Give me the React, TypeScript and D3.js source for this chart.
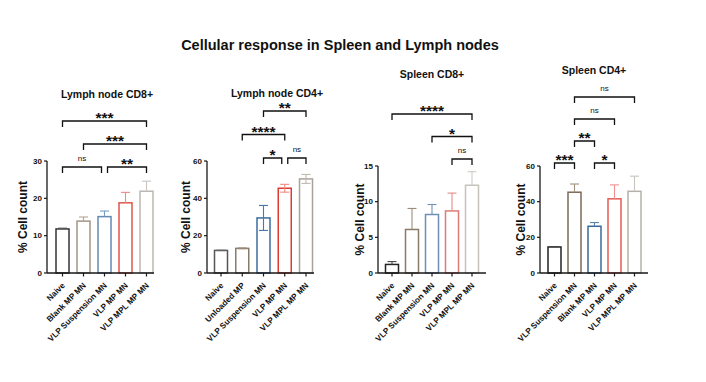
import React from "react";
import * as d3 from "d3";

const mainTitle = "Cellular response in Spleen and Lymph nodes";
const yAxisLabel = "% Cell count";

// Panel 1: Lymph node CD8+
const p1Title = "Lymph node CD8+";
const p1Categories = ["Naive", "Blank MP MN", "VLP Suspension MN", "VLP MP MN", "VLP MPL MP MN"];
const p1Means = [11.8, 13.9, 15.1, 18.8, 21.9];
const p1Errors = [0.2, 1.1, 1.5, 2.8, 2.7];
const p1Ticks = [0, 10, 20, 30];
const p1Max = 30;
const p1Brackets = [
  { from: 0, to: 2, label: "ns", level: 0 },
  { from: 2, to: 4, label: "**", level: 0 },
  { from: 1, to: 4, label: "***", level: 1 },
  { from: 0, to: 4, label: "***", level: 2 },
];

// Panel 2: Lymph node CD4+
const p2Title = "Lymph node CD4+";
const p2Categories = ["Naive", "Unloaded MP", "VLP Suspension MN", "VLP MP MN", "VLP MPL MP MN"];
const p2Means = [12.1, 13.2, 29.5, 45.4, 50.4];
const p2Errors = [0.1, 0.2, 6.7, 2.1, 2.4];
const p2Ticks = [0, 20, 40, 60];
const p2Max = 60;
const p2Brackets = [
  { from: 2, to: 3, label: "*", level: 0 },
  { from: 3, to: 4, label: "ns", level: 0 },
  { from: 1, to: 3, label: "****", level: 1 },
  { from: 2, to: 4, label: "**", level: 2 },
];

// Panel 3: Spleen CD8+
const p3Title = "Spleen CD8+";
const p3Categories = ["Naive", "Blank MP MN", "VLP Suspension MN", "VLP MP MN", "VLP MPL MP MN"];
const p3Means = [1.2, 6.1, 8.2, 8.7, 12.3];
const p3Errors = [0.4, 2.95, 1.4, 2.5, 1.9];
const p3Ticks = [0, 5, 10, 15];
const p3Max = 15;
const p3Brackets = [
  { from: 3, to: 4, label: "ns", level: 0 },
  { from: 2, to: 4, label: "*", level: 1 },
  { from: 0, to: 4, label: "****", level: 2 },
];

// Panel 4: Spleen CD4+
const p4Title = "Spleen CD4+";
const p4Categories = ["Naive", "VLP Suspension MN", "Blank MP MN", "VLP MP MN", "VLP MPL MP MN"];
const p4Means = [14.6, 45.3, 26.2, 41.6, 45.8];
const p4Errors = [0.2, 4.6, 2.1, 7.8, 8.5];
const p4Ticks = [0, 20, 40, 60];
const p4Max = 60;
const p4Brackets = [
  { from: 0, to: 1, label: "***", level: 0 },
  { from: 2, to: 3, label: "*", level: 0 },
  { from: 1, to: 2, label: "**", level: 1 },
  { from: 1, to: 3, label: "ns", level: 2 },
  { from: 1, to: 4, label: "ns", level: 3 },
];

const FONT = "'Liberation Sans', Arial, Helvetica, sans-serif";
const AXIS = "#1a1a1a";

type Bracket = { from: number; to: number; label: string; level: number };

type PanelProps = {
  title: string;
  categories: string[];
  means: number[];
  errors: number[];
  ticks: number[];
  yMax: number;
  brackets: Bracket[];
  strokes: string[];
  errColors: string[];
  bothSides: boolean;
  axisX: number;
  firstX: number;
  lastX: number;
  xEnd: number;
  yTop: number;
  y0: number;
  titleX: number;
  titleY: number;
  labelX: number;
  bracketBase: number;
  bracketStep: number;
};

function Panel(p: PanelProps) {
  const x = d3.scalePoint<string>().domain(p.categories).range([p.firstX, p.lastX]);
  const y = d3.scaleLinear().domain([0, p.yMax]).range([p.y0, p.yTop]);
  const barW = 13;
  const capW = 9;
  const cx = (i: number) => x(p.categories[i]) as number;
  const midY = (p.y0 + p.yTop) / 2;

  const nudged = p.brackets.map((b) => {
    let x1 = cx(b.from);
    let x2 = cx(b.to);
    const sameLevel = p.brackets.filter((o) => o !== b && o.level === b.level);
    if (sameLevel.some((o) => o.from === b.to)) x2 -= 3;
    if (sameLevel.some((o) => o.to === b.from)) x1 += 3;
    return { ...b, x1, x2 };
  });

  return (
    <g>
      <text x={p.titleX} y={p.titleY} textAnchor="middle" fontFamily={FONT} fontWeight="bold" fontSize={10.5} fill="#111">
        {p.title}
      </text>
      <text
        transform={`translate(${p.labelX},${midY}) rotate(-90)`}
        textAnchor="middle"
        fontFamily={FONT}
        fontWeight="bold"
        fontSize={12}
        fill="#111"
      >
        {yAxisLabel}
      </text>
      {p.means.map((m, i) => {
        const c = cx(i);
        const top = y(m);
        const eTop = y(m + p.errors[i]);
        const eBot = y(Math.max(0, m - p.errors[i]));
        return (
          <g key={i}>
            <rect x={c - barW / 2} y={top} width={barW} height={p.y0 - top} fill="#fff" stroke={p.strokes[i]} strokeWidth={1.5} />
            <line x1={c} x2={c} y1={p.bothSides ? eBot : top} y2={eTop} stroke={p.errColors[i]} strokeWidth={1.1} />
            <line x1={c - capW / 2} x2={c + capW / 2} y1={eTop} y2={eTop} stroke={p.errColors[i]} strokeWidth={1.1} />
            {p.bothSides && (
              <line x1={c - capW / 2} x2={c + capW / 2} y1={eBot} y2={eBot} stroke={p.errColors[i]} strokeWidth={1.1} />
            )}
          </g>
        );
      })}
      <line x1={p.axisX} x2={p.axisX} y1={p.yTop} y2={p.y0} stroke={AXIS} strokeWidth={1.3} />
      {p.ticks.map((t) => (
        <g key={t}>
          <line x1={p.axisX - 3} x2={p.axisX} y1={y(t)} y2={y(t)} stroke={AXIS} strokeWidth={1.2} />
          <text x={p.axisX - 5} y={y(t)} dy="0.35em" textAnchor="end" fontFamily={FONT} fontWeight="bold" fontSize={8} fill="#111">
            {t}
          </text>
        </g>
      ))}
      <line x1={p.axisX} x2={p.xEnd} y1={p.y0} y2={p.y0} stroke={AXIS} strokeWidth={1.3} />
      {p.categories.map((c, i) => (
        <g key={c + i}>
          <line x1={cx(i)} x2={cx(i)} y1={p.y0} y2={p.y0 + 3.5} stroke={AXIS} strokeWidth={1.2} />
          <text
            transform={`translate(${cx(i) + 3},${p.y0 + 13}) rotate(-45)`}
            textAnchor="end"
            fontFamily={FONT}
            fontWeight="bold"
            fontSize={8.2}
            fill="#111"
          >
            {c}
          </text>
        </g>
      ))}
      {nudged.map((b, i) => {
        const by = p.bracketBase - b.level * p.bracketStep;
        const isNs = b.label === "ns";
        return (
          <g key={i}>
            <path d={`M${b.x1},${by + 6}V${by}H${b.x2}V${by + 6}`} fill="none" stroke="#111" strokeWidth={1.3} />
            <text
              x={(b.x1 + b.x2) / 2}
              y={isNs ? by - 6.5 : by + 2}
              textAnchor="middle"
              fontFamily={FONT}
              fontWeight={isNs ? "normal" : "bold"}
              fontSize={isNs ? 8 : 15.5}
              fill="#111"
            >
              {b.label}
            </text>
          </g>
        );
      })}
    </g>
  );
}

export default function App() {
  return (
    <svg width={706} height={382} style={{ position: "absolute", left: 0, top: 0, background: "#fff" }}>
      <rect width={706} height={382} fill="#fff" />
      <text x={340} y={50} textAnchor="middle" fontFamily={FONT} fontWeight="bold" fontSize={14.5} fill="#111">
        {mainTitle}
      </text>
      <Panel
        title={p1Title}
        categories={p1Categories}
        means={p1Means}
        errors={p1Errors}
        ticks={p1Ticks}
        yMax={p1Max}
        brackets={p1Brackets}
        strokes={["#333333", "#a39585", "#6489b3", "#e0564e", "#bcb8b3"]}
        errColors={["#555555", "#b3a696", "#7a9cc2", "#e98a84", "#c9c5c1"]}
        bothSides={false}
        axisX={47}
        firstX={62.5}
        lastX={146.5}
        xEnd={154}
        yTop={161}
        y0={273}
        titleX={107}
        titleY={98}
        labelX={27}
        bracketBase={167}
        bracketStep={23}
      />
      <Panel
        title={p2Title}
        categories={p2Categories}
        means={p2Means}
        errors={p2Errors}
        ticks={p2Ticks}
        yMax={p2Max}
        brackets={p2Brackets}
        strokes={["#555555", "#8a7a6a", "#3d6c9e", "#e03a30", "#a8a29a"]}
        errColors={["#666666", "#9a8a7a", "#4a78a8", "#f08a80", "#c0bab3"]}
        bothSides={true}
        axisX={207}
        firstX={221}
        lastX={306}
        xEnd={314}
        yTop={161}
        y0={273}
        titleX={277}
        titleY={97}
        labelX={190}
        bracketBase={158}
        bracketStep={23.5}
      />
      <Panel
        title={p3Title}
        categories={p3Categories}
        means={p3Means}
        errors={p3Errors}
        ticks={p3Ticks}
        yMax={p3Max}
        brackets={p3Brackets}
        strokes={["#222222", "#8a7a68", "#6e8fb8", "#e07a78", "#c6c2bc"]}
        errColors={["#444444", "#9c8c7a", "#6e8fb8", "#e88a88", "#cfcbc6"]}
        bothSides={false}
        axisX={378}
        firstX={392}
        lastX={472}
        xEnd={486}
        yTop={166}
        y0={273}
        titleX={432}
        titleY={78}
        labelX={364}
        bracketBase={159}
        bracketStep={22.5}
      />
      <Panel
        title={p4Title}
        categories={p4Categories}
        means={p4Means}
        errors={p4Errors}
        ticks={p4Ticks}
        yMax={p4Max}
        brackets={p4Brackets}
        strokes={["#222222", "#7a6a55", "#3a6898", "#e85a55", "#b5b0a8"]}
        errColors={["#444444", "#a09080", "#5a84b0", "#f09090", "#c8c4be"]}
        bothSides={false}
        axisX={540}
        firstX={554.5}
        lastX={634.5}
        xEnd={648}
        yTop={166}
        y0={273}
        titleX={594}
        titleY={74}
        labelX={525}
        bracketBase={163}
        bracketStep={22}
      />
    </svg>
  );
}
